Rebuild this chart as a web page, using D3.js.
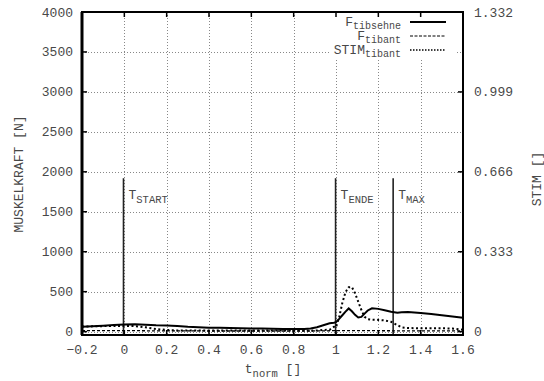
<!DOCTYPE html>
<html>
<head>
<meta charset="utf-8">
<script src="https://cdn.jsdelivr.net/npm/d3@7"></script>
<style>
  html, body { margin: 0; padding: 0; background: #fff; }
  svg { display: block; }
  text { font-family: "Liberation Mono", "DejaVu Sans Mono", monospace; fill: #484848; }
</style>
</head>
<body>
<svg id="chart" width="544" height="381"></svg>
<script>
// Normalised time grid
const tNorm = [-0.2,-0.15,-0.1,-0.05,0,0.05,0.1,0.15,0.2,0.25,0.3,0.35,0.4,0.45,0.5,0.55,0.6,0.65,0.7,0.75,0.8,0.85,0.88,0.91,0.94,0.97,0.99,1.0,1.015,1.03,1.045,1.06,1.075,1.09,1.105,1.12,1.135,1.15,1.17,1.2,1.23,1.26,1.29,1.31,1.34,1.4,1.45,1.5,1.55,1.6];
// Tendon force [N]
const fTibsehne = [62,68,75,82,88,92,86,80,78,70,60,54,50,48,46,43,40,38,35,33,32,33,40,55,80,105,112,118,160,205,250,290,255,210,178,185,225,265,292,285,268,250,236,242,246,232,220,205,190,175];
// Muscle force tibialis anterior [N]
const fTibant = [12,12,12,12,12,12,11,10,10,9,9,9,8,8,8,8,8,8,8,8,8,8,8,9,10,11,12,12,13,14,14,14,14,13,13,13,12,12,12,12,11,11,10,10,10,10,9,9,9,8];
// Stimulation tibialis anterior []
const stimTibant = [0.0216,0.022,0.023,0.024,0.024,0.023,0.018,0.011,0.007,0.005,0.0045,0.0045,0.0045,0.0045,0.0045,0.0045,0.0045,0.0045,0.0045,0.0045,0.0045,0.0045,0.004,0.005,0.007,0.008,0.02,0.018,0.06,0.12,0.165,0.185,0.186,0.16,0.125,0.09,0.062,0.052,0.05,0.049,0.047,0.041,0.027,0.018,0.015,0.014,0.014,0.014,0.013,0.008];

// Axis ticks
const xTicks = [-0.2,0,0.2,0.4,0.6,0.8,1,1.2,1.4,1.6];
const yTicks = [0,500,1000,1500,2000,2500,3000,3500,4000];
const y2Ticks = [0,0.333,0.666,0.999,1.332];
const y2Labels = ["0","0.333","0.666","0.999","1.332"];

// Event markers
const markers = [
  { name: "START", t: -0.004, top: 1920 },
  { name: "ENDE",  t: 0.998,  top: 1920 },
  { name: "MAX",   t: 1.27,   top: 1920 }
];

const stimFactor = 3003; // 1.332 STIM <-> 4000 N

const svg = d3.select("#chart");
const L = 82, R = 463, T = 12, B = 335;

const x = d3.scaleLinear().domain([-0.2, 1.6]).range([L, R]);
const y = d3.scaleLinear().domain([-42, 4000]).range([B, T]);
const y2 = d3.scaleLinear().domain([-42 / stimFactor, 4000 / stimFactor]).range([B, T]);

// grid
const grid = svg.append("g").attr("stroke", "#888").attr("stroke-width", 1).attr("stroke-dasharray", "1,2");
grid.selectAll("line.gx").data(xTicks).join("line")
  .attr("x1", d => Math.round(x(d)) + 0.5).attr("x2", d => Math.round(x(d)) + 0.5)
  .attr("y1", T).attr("y2", B);
grid.selectAll("line.gy").data(yTicks).join("line")
  .attr("y1", d => Math.round(y(d)) + 0.5).attr("y2", d => Math.round(y(d)) + 0.5)
  .attr("x1", L).attr("x2", R);

// legend background (opaque key)
svg.append("rect").attr("x", 329).attr("y", T + 1).attr("width", 126).attr("height", 45).attr("fill", "#fff");

// event markers
const mk = svg.append("g");
markers.forEach(m => {
  mk.append("line")
    .attr("x1", x(m.t)).attr("x2", x(m.t))
    .attr("y1", y(m.top)).attr("y2", B)
    .attr("stroke", "#222").attr("stroke-width", 1.6);
  const tx = mk.append("text").attr("x", x(m.t) + 5).attr("y", 199).attr("font-size", 13);
  tx.append("tspan").text("T");
  tx.append("tspan").attr("dy", 3.5).attr("font-size", 10.5).text(m.name);
});

// series
svg.append("path").datum(fTibant)
  .attr("d", d3.line().x((d, i) => x(tNorm[i])).y(d => y(d)))
  .attr("fill", "none").attr("stroke", "#000").attr("stroke-width", 1.3).attr("stroke-dasharray", "3,2");
svg.append("path").datum(stimTibant)
  .attr("d", d3.line().x((d, i) => x(tNorm[i])).y(d => y2(d)))
  .attr("fill", "none").attr("stroke", "#000").attr("stroke-width", 2).attr("stroke-dasharray", "2,2.5");
svg.append("path").datum(fTibsehne)
  .attr("d", d3.line().x((d, i) => x(tNorm[i])).y(d => y(d)))
  .attr("fill", "none").attr("stroke", "#000").attr("stroke-width", 2);

// ticks (inward)
const tk = svg.append("g").attr("stroke", "#000").attr("stroke-width", 1.5);
xTicks.forEach(v => {
  tk.append("line").attr("x1", x(v)).attr("x2", x(v)).attr("y1", B).attr("y2", B - 5);
  tk.append("line").attr("x1", x(v)).attr("x2", x(v)).attr("y1", T).attr("y2", T + 5);
});
yTicks.forEach(v => {
  tk.append("line").attr("x1", L).attr("x2", L + 5).attr("y1", y(v)).attr("y2", y(v));
});
y2Ticks.forEach(v => {
  tk.append("line").attr("x1", R).attr("x2", R - 5).attr("y1", y2(v)).attr("y2", y2(v));
});

// frame
svg.append("rect").attr("x", L).attr("y", T).attr("width", R - L).attr("height", B - T)
  .attr("fill", "none").attr("stroke", "#000").attr("stroke-width", 2);
svg.append("line").attr("x1", L).attr("x2", L).attr("y1", T).attr("y2", B).attr("stroke", "#000").attr("stroke-width", 3);

// tick labels
svg.append("g").selectAll("text").data(yTicks).join("text")
  .attr("x", 73).attr("y", d => y(d) + 4.5).attr("text-anchor", "end").attr("font-size", 13)
  .text(d => d);
svg.append("g").selectAll("text").data(y2Ticks).join("text")
  .attr("x", 474).attr("y", d => y2(d) + 4.5).attr("text-anchor", "start").attr("font-size", 13)
  .text((d, i) => y2Labels[i]);
svg.append("g").selectAll("text").data(xTicks).join("text")
  .attr("x", d => x(d)).attr("y", 354).attr("text-anchor", "middle").attr("font-size", 13)
  .text(d => d3.format(".1f")(d).replace("-", "\u2212").replace(/^1\.0$/, "1").replace(/^0\.0$/, "0"));

// axis titles
const xt = svg.append("text").attr("x", 273).attr("y", 373).attr("text-anchor", "middle").attr("font-size", 13);
xt.append("tspan").text("t");
xt.append("tspan").attr("dy", 3.5).attr("font-size", 10.5).text("norm");
xt.append("tspan").attr("dy", -3.5).text(" []");

svg.append("text").attr("transform", "translate(23,174) rotate(-90)")
  .attr("text-anchor", "middle").attr("font-size", 13).text("MUSKELKRAFT [N]");
svg.append("text").attr("transform", "translate(541,179) rotate(-90)")
  .attr("text-anchor", "middle").attr("font-size", 13).text("STIM []");

// legend
const legend = [
  { main: "F", sub: "tibsehne", dash: null, w: 2 },
  { main: "F", sub: "tibant", dash: "3,1.5", w: 1 },
  { main: "STIM", sub: "tibant", dash: "1.5,1.5", w: 1.5 }
];
const lg = svg.append("g");
legend.forEach((d, i) => {
  const by = 26 + i * 14;
  const tx = lg.append("text").attr("x", 401).attr("y", by).attr("text-anchor", "end").attr("font-size", 13);
  tx.append("tspan").text(d.main);
  tx.append("tspan").attr("dy", 3).attr("font-size", 10).text(d.sub);
  lg.append("line").attr("x1", 410).attr("x2", 446).attr("y1", by - 4).attr("y2", by - 4)
    .attr("stroke", "#000").attr("stroke-width", d.w).attr("stroke-dasharray", d.dash);
});
</script>
</body>
</html>
